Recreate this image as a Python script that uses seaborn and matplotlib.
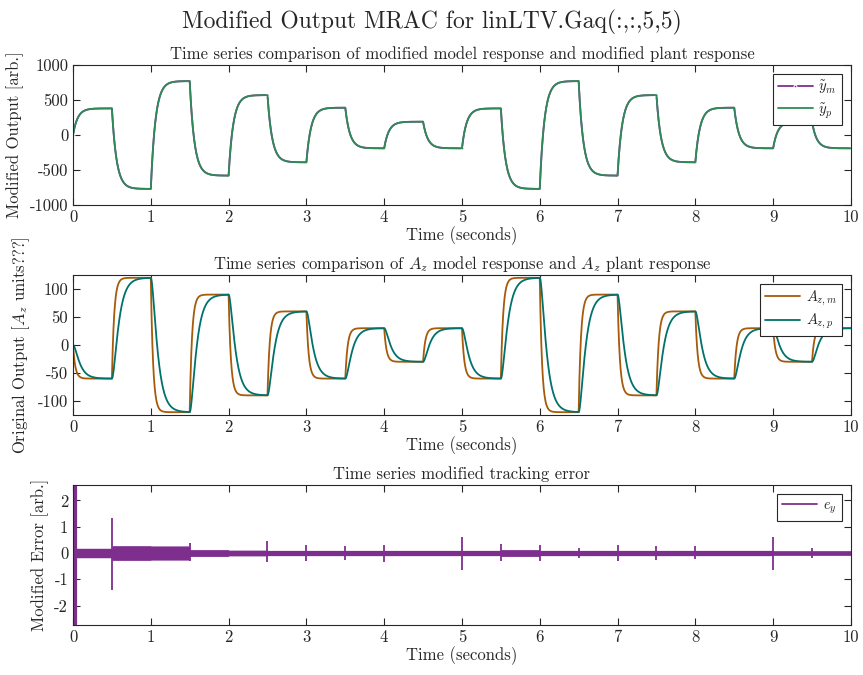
import numpy as np
import pandas as pd
import matplotlib
matplotlib.use("Agg")
import matplotlib.pyplot as plt
import seaborn as sns

# ---------------- data ----------------
seg_len = 0.5
t_end = 10.0
# command level held over each 0.5 s segment (modified output, arb.)
mod_levels = [380, -770, 770, -580, 570, -390, 390, -190, 190, -190,
              380, -770, 770, -580, 570, -390, 390, -190, 190, -190]
# command level over each 0.5 s segment (A_z units)
az_levels = [-60, 120, -120, 90, -90, 60, -60, 30, -30, 30,
             -60, 120, -120, 90, -90, 60, -60, 30, -30, 30]
# response time constants (s) read from rise shapes
tau_mod = 0.06
tau_az_model = 0.03
tau_az_plant = 0.07
# tracking-error band half width per segment
err_halfwidth = [0.18, 0.28, 0.27, 0.13, 0.11, 0.1, 0.1, 0.1, 0.1, 0.1,
                 0.1, 0.13, 0.1, 0.1, 0.1, 0.1, 0.1, 0.1, 0.09, 0.09]
# switching spikes of the tracking error
spike_times = [0.02, 0.5, 1.5, 2.5, 3.0, 3.5, 4.0, 5.0, 5.5, 6.0, 6.5, 7.0, 7.5, 8.0, 9.0, 9.5]
spike_hi = [2.7, 1.35, 0.38, 0.45, 0.32, 0.28, 0.32, 0.6, 0.35, 0.3, 0.2, 0.3, 0.28, 0.25, 0.6, 0.2]
spike_lo = [-2.8, -1.4, -0.3, -0.35, -0.3, -0.28, -0.35, -0.65, -0.3, -0.3, -0.2, -0.3, -0.28, -0.22, -0.65, -0.2]

# ---------------- response of the lag models to the commands ----------------
dt = 0.001
t = np.arange(0, t_end + dt / 2, dt)
idx = np.minimum((t / seg_len).astype(int), len(mod_levels) - 1)


def lag(u, tau):
    y = np.zeros_like(u, dtype=float)
    a = dt / tau
    for k in range(1, len(u)):
        y[k] = y[k - 1] + a * (u[k - 1] - y[k - 1])
    return y


u_mod = np.asarray(mod_levels, float)[idx]
u_az = np.asarray(az_levels, float)[idx]
ym = lag(u_mod, tau_mod)
yp = ym.copy()
azm = lag(u_az, tau_az_model)
azp = lag(azm, tau_az_plant)
env = np.asarray(err_halfwidth)[idx]

df_top = pd.DataFrame({"t": t, "ym": ym, "yp": yp})
df_mid = pd.DataFrame({"t": t, "azm": azm, "azp": azp})

# ---------------- style ----------------
sns.set_style("ticks")
plt.rcParams.update({
    "font.family": ["serif"],
    "font.serif": ["cmr10", "DejaVu Serif"],
    "mathtext.fontset": "cm",
    "axes.unicode_minus": False,
    "axes.formatter.use_mathtext": False,
    "axes.edgecolor": "#262626",
    "axes.linewidth": 0.8,
    "xtick.direction": "in",
    "ytick.direction": "in",
    "xtick.top": True,
    "ytick.right": True,
    "xtick.major.size": 5,
    "ytick.major.size": 5,
    "xtick.color": "#262626",
    "ytick.color": "#262626",
    "xtick.labelsize": 12,
    "ytick.labelsize": 12,
})

c_purple = "#7E2F8E"
c_green = "#2E8B57"
c_orange = "#A65A0A"
c_teal = "#00716B"

fig = plt.figure(figsize=(8.63, 6.75), dpi=100)
L, R = 0.0846, 0.986
ax1 = fig.add_axes([L, 0.6963, R - L, 0.2074])
ax2 = fig.add_axes([L, 0.3852, R - L, 0.2074])
ax3 = fig.add_axes([L, 0.0741, R - L, 0.2074])

fig.suptitle("Modified Output MRAC for linLTV.Gaq(:,:,5,5)", fontsize=17, y=0.985)

# --- top ---
sns.lineplot(data=df_top, x="t", y="ym", ax=ax1, color=c_purple, lw=1.3,
             marker=".", markevery=2500, markersize=4, label=r"$\tilde{y}_m$")
sns.lineplot(data=df_top, x="t", y="yp", ax=ax1, color=c_green, lw=1.3,
             label=r"$\tilde{y}_p$")
ax1.set_xlim(0, 10)
ax1.set_ylim(-1000, 1000)
ax1.set_yticks([-1000, -500, 0, 500, 1000])
ax1.set_title("Time series comparison of modified model response and modified plant response",
              fontsize=12, pad=4)
ax1.set_ylabel("Modified Output [arb.]", fontsize=12)

# --- middle ---
sns.lineplot(data=df_mid, x="t", y="azm", ax=ax2, color=c_orange, lw=1.3,
             label=r"$A_{z,m}$")
sns.lineplot(data=df_mid, x="t", y="azp", ax=ax2, color=c_teal, lw=1.3,
             label=r"$A_{z,p}$")
ax2.set_xlim(0, 10)
ax2.set_ylim(-125, 125)
ax2.set_yticks([-100, -50, 0, 50, 100])
ax2.set_title(r"Time series comparison of $A_z$ model response and $A_z$ plant response",
              fontsize=12, pad=4)
ax2.set_ylabel(r"Original Output [$A_z$ units???]", fontsize=12)

# --- bottom ---
ax3.fill_between(t, -env, env, color=c_purple, lw=0, label="_nolegend_")
ax3.vlines(spike_times, spike_lo, spike_hi, color=c_purple, lw=1.3)
ax3.vlines([spike_times[0]], [spike_lo[0]], [spike_hi[0]], color=c_purple, lw=3)
sns.lineplot(x=[0, 10], y=[0, 0], ax=ax3, color=c_purple, lw=1.3, label=r"$e_y$")
ax3.set_xlim(0, 10)
ax3.set_ylim(-2.74, 2.59)
ax3.set_yticks([-2, -1, 0, 1, 2])
ax3.set_title("Time series modified tracking error", fontsize=12, pad=4)
ax3.set_ylabel("Modified Error [arb.]", fontsize=12)

for ax in (ax1, ax2, ax3):
    ax.set_xticks(range(0, 11))
    ax.set_xlabel("Time (seconds)", fontsize=12, labelpad=1)
    for s in ax.spines.values():
        s.set_visible(True)
    leg = ax.legend(loc="upper right", fontsize=10.5, fancybox=False, framealpha=1,
                    edgecolor="#262626", handlelength=2.4, handletextpad=0.4,
                    borderpad=0.35, labelspacing=0.3, borderaxespad=0.6)
    leg.get_frame().set_linewidth(0.8)

fig.savefig("out.png", dpi=100)
